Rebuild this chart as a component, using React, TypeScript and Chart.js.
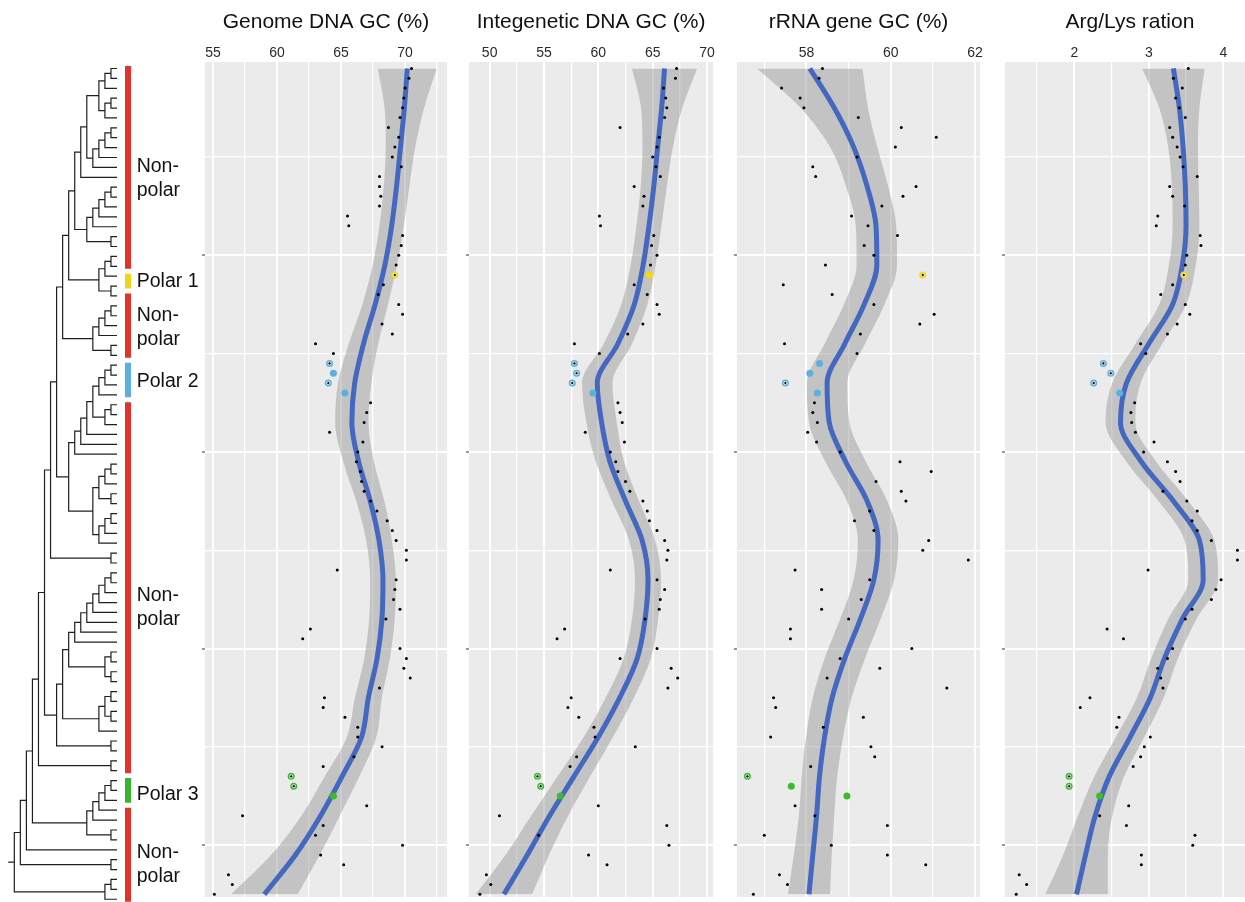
import React, { useEffect, useRef } from "react";
import { Chart, registerables } from "chart.js";

Chart.register(...registerables);

const FONT_FAMILY = '"Liberation Sans", Arial, Helvetica, sans-serif';

// ---------------- tree topology (leaf indices, top to bottom) ----------------
const T_TOP = [[[[[[0, 1], 2], [[3, 4], 5]], [[[[6, 7], 8], 9], 10]], 11], [[[[[12, 13], 14], 15], 16], [17, 18]]];
const T_POLAR1 = [[[19, 20], 21], [22, 23]];
const T_G2 = [[[[24, 25], 26], 27], [28, 29]];
const T_POLAR2 = [[[[[[[30, 31], 32], 33], [[34, 35], 36]], 37], 38], 39];
const T_G3 = [[[[40, 41], 42], [43, 44]], [[[45, 46], 47], 48]];
const T_G4 = [[[[[[[51, 52], 53], 54], 55], 56], 57], 58];
const T_G5 = [[59, 60], [61, 62]];
const T_G6 = [[[63, 64], [65, 66]], 67];
const T_POLAR3 = [[[[[72, 73], 74], 75], 76], [77, 78]];
const N1 = [T_TOP, T_POLAR1];
const N2 = [N1, T_G2];
const N3 = [T_POLAR2, T_G3];
const N4 = [N2, N3];
const N5 = [N4, [49, 50]];
const N6 = [T_G4, T_G5];
const N7 = [N6, T_G6];
const N8 = [N7, [68, 69]];
const N9 = [N5, N8];
const N10 = [N9, [70, 71]];
const N11 = [N10, T_POLAR3];
const N12 = [N11, 79];
const N13 = [N12, [80, 81]];
const TREE = [N13, [[82, 83], 84]];

// ---------------- groups (coloured bars + labels) ----------------
const GROUP_LABELS = ["Non-\npolar", "Polar 1", "Non-\npolar", "Polar 2", "Non-\npolar", "Polar 3", "Non-\npolar"];
const GROUP_FIRST = [0, 21, 23, 30, 34, 72, 75];
const GROUP_LAST = [20, 22, 29, 33, 71, 74, 84];
const GROUP_LABEL_AT = [11.17, 21.53, 26.24, 31.64, 54.5, 73.45, 80.5];
const GROUP_COLORS = ["#E2322A", "#F6D31B", "#E2322A", "#5BB0E0", "#E2322A", "#36B52C", "#E2322A"];

// ---------------- highlighted (polar) leaves ----------------
const POLAR_LEAVES = [21, 30, 31, 32, 33, 72, 73, 74];
const POLAR_COLORS = ["#F7D80A", "#5BB0E0", "#5BB0E0", "#5BB0E0", "#5BB0E0", "#3DBA30", "#3DBA30", "#3DBA30"];
const RING_FLAGS = [
  [1, 1, 0, 1, 0, 1, 1, 0],
  [0, 1, 1, 1, 0, 1, 1, 0],
  [1, 0, 0, 1, 0, 1, 0, 0],
  [1, 1, 1, 1, 0, 1, 1, 0],
];

// ---------------- panel values, one per leaf ----------------
const GENOME_GC = [
  70.5, 70.3, 70.0, 69.9, 69.8, 69.6, 68.7, 69.5, 69.2, 69.0,
  69.7, 68.0, 68.0, 68.1, 68.0, 65.5, 65.6, 69.8, 69.7, 69.5,
  69.3, 69.2, 68.3, 67.9, 69.5, 69.8, 68.2, 69.0, 63.0, 64.4,
  64.1, 64.4, 64.0, 65.3, 67.3, 67.0, 66.8, 64.1, 66.7, 66.3,
  66.2, 66.5, 66.6, 66.8, 67.3, 67.8, 68.6, 69.0, 69.3, 70.1,
  70.1, 64.7, 69.3, 69.2, 69.1, 69.6, 68.5, 62.6, 62.0, 69.6,
  70.1, 69.9, 70.4, 68.0, 63.7, 63.6, 65.3, 66.3, 66.3, 68.2,
  66.0, 63.6, 61.1, 61.3, 64.4, 67.0, 57.3, 63.6, 63.0, 69.8,
  63.4, 65.2, 56.2, 56.5, 55.1,
];
const INTERGENIC_GC = [
  67.2, 67.1, 66.0, 66.2, 66.3, 66.1, 62.0, 65.6, 65.4, 65.0,
  65.3, 65.7, 63.3, 64.2, 64.1, 60.1, 60.2, 65.1, 64.9, 65.4,
  64.8, 64.7, 63.3, 64.5, 65.4, 65.6, 64.1, 62.7, 57.8, 60.1,
  57.8, 58.0, 57.6, 59.5, 61.8, 62.0, 62.2, 58.8, 62.4, 61.1,
  61.6, 61.8, 62.5, 62.9, 64.1, 64.5, 64.7, 65.4, 66.1, 66.4,
  66.3, 61.1, 65.4, 66.1, 65.7, 65.6, 64.3, 56.9, 56.2, 65.4,
  62.0, 66.7, 67.3, 66.4, 57.5, 57.2, 58.2, 59.6, 59.7, 63.4,
  58.0, 57.4, 54.4, 54.7, 56.5, 60.0, 50.9, 66.3, 54.5, 66.5,
  59.1, 60.8, 49.7, 50.1, 49.1,
];
const RRNA_GC = [
  58.38, 58.3, 57.41, 57.85, 57.94, 59.23, 60.25, 61.08, 60.11, 59.2,
  58.15, 58.22, 60.6, 60.29, 59.79, 59.07, 59.46, 60.16, 59.37, 59.6,
  58.45, 60.76, 57.45, 58.61, 59.6, 61.03, 60.69, 59.28, 57.48, 59.2,
  58.31, 58.08, 57.5, 58.26, 58.19, 58.15, 58.26, 58.03, 58.24, 58.8,
  60.22, 60.96, 59.65, 60.25, 60.36, 59.5, 59.14, 59.6, 60.9, 60.76,
  61.84, 57.73, 59.5, 58.36, 59.3, 58.36, 59.0, 57.62, 57.62, 60.5,
  58.8, 59.74, 58.49, 61.33, 57.22, 57.27, 59.35, 58.4, 57.15, 59.53,
  59.62, 58.1, 56.6, 57.64, 58.96, 57.73, 58.2, 59.92, 57.0, 58.59,
  59.92, 60.83, 57.36, 57.55, 56.74,
];
const ARG_LYS = [
  3.53, 3.33, 3.45, 3.36, 3.41, 3.49, 3.28, 3.32, 3.38, 3.42,
  3.46, 3.65, 3.28, 3.32, 3.48, 3.12, 3.1, 3.69, 3.7, 3.51,
  3.49, 3.47, 3.32, 3.16, 3.49, 3.55, 3.38, 3.25, 2.89, 2.96,
  2.39, 2.49, 2.26, 2.61, 2.81, 2.76, 2.77, 2.82, 3.07, 2.93,
  3.25, 3.36, 3.42, 3.19, 3.51, 3.65, 3.58, 3.65, 3.84, 4.19,
  4.19, 2.99, 3.97, 3.9, 3.84, 3.58, 3.49, 2.44, 2.66, 3.32,
  3.25, 3.12, 3.16, 3.19, 2.21, 2.08, 2.6, 2.57, 3.02, 2.94,
  2.89, 2.79, 1.93, 1.93, 2.34, 2.73, 2.34, 2.7, 3.62, 3.59,
  2.9, 2.9, 1.26, 1.36, 1.22,
];

// ---------------- smoothed fit and its band, at sampled leaves ----------------
const FIT_LEAVES = [0, 4, 8, 12, 16, 20, 24, 28, 32, 36, 40, 44, 48, 52, 56, 60, 64, 68, 72, 76, 80, 84];
const GENOME_FIT = [70.17, 69.94, 69.64, 69.33, 68.95, 68.42, 67.66, 66.75, 66.06, 65.84, 66.37, 67.28, 67.96, 68.27, 68.19, 67.81, 67.13, 66.6, 65.08, 63.4, 61.43, 59.0];
const GENOME_SE = [2.3, 1.55, 1.15, 1.0, 0.95, 0.95, 1.0, 1.15, 1.3, 1.3, 1.2, 1.1, 1.0, 1.0, 1.0, 1.0, 1.05, 1.15, 1.35, 1.5, 1.9, 2.6];
const INTERGENIC_FIT = [66.09, 65.83, 65.46, 65.1, 64.66, 64.12, 63.31, 61.8, 59.9, 60.3, 61.07, 62.5, 64.03, 64.57, 64.3, 63.58, 61.97, 60.0, 57.76, 55.52, 53.46, 51.31];
const INTERGENIC_SE = [3.0, 1.9, 1.4, 1.2, 1.15, 1.15, 1.2, 1.3, 1.4, 1.4, 1.3, 1.25, 1.2, 1.2, 1.2, 1.25, 1.3, 1.35, 1.5, 1.7, 2.0, 2.6];
const RRNA_FIT = [58.08, 58.66, 59.12, 59.44, 59.65, 59.67, 59.37, 58.91, 58.49, 58.54, 58.93, 59.44, 59.7, 59.6, 59.28, 58.91, 58.61, 58.43, 58.31, 58.24, 58.15, 58.06];
const RRNA_SE = [1.25, 0.8, 0.56, 0.5, 0.48, 0.48, 0.48, 0.48, 0.48, 0.48, 0.48, 0.48, 0.48, 0.48, 0.48, 0.48, 0.46, 0.44, 0.42, 0.42, 0.45, 0.5];
const ARG_LYS_FIT = [3.33, 3.41, 3.46, 3.49, 3.5, 3.45, 3.32, 3.0, 2.7, 2.62, 2.9, 3.33, 3.68, 3.73, 3.45, 3.21, 3.02, 2.75, 2.47, 2.28, 2.15, 2.03];
const ARG_LYS_SE = [0.42, 0.27, 0.2, 0.18, 0.18, 0.18, 0.18, 0.18, 0.19, 0.2, 0.2, 0.2, 0.2, 0.2, 0.19, 0.18, 0.18, 0.19, 0.2, 0.23, 0.3, 0.42];

// ---------------- axes ----------------
const PANEL_TITLES = ["Genome DNA GC (%)", "Integenetic DNA GC (%)", "rRNA gene GC (%)", "Arg/Lys ration"];
const PANEL_X_MIN = [54.36, 48.09, 56.35, 1.068];
const PANEL_X_MAX = [73.28, 70.56, 62.12, 4.427];
const PANEL_MAJOR = [[55, 60, 65, 70], [50, 55, 60, 65, 70], [58, 60, 62], [2, 3, 4]];
const PANEL_MINOR = [[57.5, 62.5, 67.5, 72.5], [52.5, 57.5, 62.5, 67.5], [57, 59, 61], [1.5, 2.5, 3.5]];
const Y_MAJOR = [19, 39, 59, 79];
const Y_MINOR = [9, 29, 49, 69];

const PANEL_VALUES = [GENOME_GC, INTERGENIC_GC, RRNA_GC, ARG_LYS];
const PANEL_FIT = [GENOME_FIT, INTERGENIC_FIT, RRNA_FIT, ARG_LYS_FIT];
const PANEL_SE = [GENOME_SE, INTERGENIC_SE, RRNA_SE, ARG_LYS_SE];

// ---------------- layout (style only) ----------------
const H = 902;
const Y_MIN = -0.657;
const Y_MAX = 84.28;
const TREE_Y_MIN = -6.926;
const TREE_W = 200;
const TREE_X_MAX = 19.37;
const TREE_X_MIN = -13.74;
const BAR_AT = -1.82;
const LABEL_AT = -3.26;
const ROOT_STUB = 1;
const PANEL_LEFT = [200, 464, 732, 1000];
const PANEL_WIDTH = [252, 254, 253, 260];

type TNode = number | TNode[];

function layoutTree(node: TNode, pts: any[]): { y: number; h: number } {
  if (typeof node === "number") return { y: node, h: 0 };
  const kids = node.map((k) => layoutTree(k, pts));
  const h = 1 + Math.max(...kids.map((k) => k.h));
  const first = kids[0];
  const last = kids[kids.length - 1];
  pts.push(
    { x: first.h, y: first.y },
    { x: h, y: first.y },
    { x: h, y: last.y },
    { x: last.h, y: last.y },
    { x: null, y: null }
  );
  return { y: (first.y + last.y) / 2, h };
}

const treeLabelPlugin = {
  id: "treeLabels",
  afterDatasetsDraw(chart: any) {
    const { ctx } = chart;
    const xs = chart.scales.x;
    const ys = chart.scales.y;
    ctx.save();
    ctx.font = `19.5px ${FONT_FAMILY}`;
    ctx.fillStyle = "#111";
    ctx.textBaseline = "middle";
    ctx.textAlign = "left";
    GROUP_LABELS.forEach((lab, k) => {
      const lines = lab.split("\n");
      const cy = ys.getPixelForValue(GROUP_LABEL_AT[k]);
      const px = xs.getPixelForValue(LABEL_AT);
      lines.forEach((ln, j) => {
        ctx.fillText(ln, px, cy + (j - (lines.length - 1) / 2) * 23.8);
      });
    });
    ctx.restore();
  },
};

const panelBgPlugin = {
  id: "panelBg",
  beforeDraw(chart: any) {
    const { ctx, chartArea: a } = chart;
    ctx.save();
    ctx.fillStyle = "#EBEBEB";
    ctx.fillRect(a.left, a.top, a.right - a.left, a.bottom - a.top);
    ctx.restore();
  },
};

function treeConfig(): any {
  const pts: any[] = [];
  const root = layoutTree(TREE as TNode, pts);
  pts.push({ x: root.h, y: root.y }, { x: root.h + ROOT_STUB, y: root.y });
  const bars = GROUP_FIRST.map((f, k) => ({
    data: [
      { x: BAR_AT, y: f - 0.25 },
      { x: BAR_AT, y: GROUP_LAST[k] + 0.25 },
    ],
    borderColor: GROUP_COLORS[k],
    borderWidth: 6,
    borderCapStyle: "butt",
    pointRadius: 0,
    fill: false,
  }));
  return {
    type: "line",
    data: {
      datasets: [
        {
          data: pts,
          borderColor: "#1f1f1f",
          borderWidth: 1.2,
          pointRadius: 0,
          spanGaps: false,
          fill: false,
          tension: 0,
        },
        ...bars,
      ],
    },
    options: {
      responsive: false,
      animation: false,
      devicePixelRatio: 1,
      events: [],
      layout: { padding: 0 },
      plugins: { legend: { display: false }, tooltip: { enabled: false }, title: { display: false } },
      scales: {
        x: { type: "linear", display: false, reverse: true, min: TREE_X_MIN, max: TREE_X_MAX },
        y: { type: "linear", display: false, reverse: true, min: TREE_Y_MIN, max: Y_MAX },
      },
    },
    plugins: [treeLabelPlugin],
  };
}

function panelConfig(p: number): any {
  const values = PANEL_VALUES[p];
  const fit = PANEL_FIT[p];
  const se = PANEL_SE[p];
  const major = PANEL_MAJOR[p];
  const xTicks = [...major, ...PANEL_MINOR[p]]
    .filter((v) => v >= PANEL_X_MIN[p] && v <= PANEL_X_MAX[p])
    .sort((a, b) => a - b);
  const yTicks = [...Y_MAJOR, ...Y_MINOR].sort((a, b) => a - b);

  const dots = values
    .map((v, i) => ({ x: v, y: i }))
    .filter((_, i) => !POLAR_LEAVES.includes(i));
  const polarPts = POLAR_LEAVES.map((i) => ({ x: values[i], y: i }));
  const ringPts = POLAR_LEAVES.filter((_, k) => RING_FLAGS[p][k]).map((i) => ({ x: values[i], y: i }));
  const fitPts = FIT_LEAVES.map((l, k) => ({ x: fit[k], y: l }));
  const hiPts = FIT_LEAVES.map((l, k) => ({ x: fit[k] + se[k], y: l }));
  const loPts = FIT_LEAVES.map((l, k) => ({ x: fit[k] - se[k], y: l }));

  return {
    type: "line",
    data: {
      datasets: [
        {
          data: dots,
          showLine: false,
          pointRadius: 1.5,
          pointBackgroundColor: "#000",
          pointBorderWidth: 0,
          indexAxis: "y",
          order: 0,
        },
        {
          data: ringPts,
          showLine: false,
          pointRadius: 1.6,
          pointBackgroundColor: "#000",
          pointBorderColor: "#fff",
          pointBorderWidth: 0.9,
          indexAxis: "y",
          order: 1,
        },
        {
          data: polarPts,
          showLine: false,
          pointRadius: 3.5,
          pointBackgroundColor: POLAR_COLORS,
          pointBorderWidth: 0,
          indexAxis: "y",
          order: 2,
        },
        {
          data: fitPts,
          borderColor: "#4467BF",
          borderWidth: 5,
          pointRadius: 0,
          tension: 0.4,
          cubicInterpolationMode: "monotone",
          fill: false,
          indexAxis: "y",
          order: 3,
        },
        {
          data: hiPts,
          borderColor: "rgba(0,0,0,0)",
          borderWidth: 1,
          pointRadius: 0,
          tension: 0.4,
          cubicInterpolationMode: "monotone",
          fill: "+1",
          backgroundColor: "rgba(150,150,150,0.47)",
          indexAxis: "y",
          order: 4,
        },
        {
          data: loPts,
          borderColor: "rgba(0,0,0,0)",
          borderWidth: 1,
          pointRadius: 0,
          tension: 0.4,
          cubicInterpolationMode: "monotone",
          fill: false,
          indexAxis: "y",
          order: 5,
        },
      ],
    },
    options: {
      indexAxis: "y",
      responsive: false,
      animation: false,
      devicePixelRatio: 1,
      events: [],
      layout: { padding: 0 },
      plugins: {
        legend: { display: false },
        tooltip: { enabled: false },
        title: {
          display: true,
          text: PANEL_TITLES[p],
          color: "#111",
          font: { family: FONT_FAMILY, size: 21, weight: "normal", lineHeight: 1 },
          padding: { top: 12, bottom: 3 },
        },
      },
      scales: {
        x: {
          type: "linear",
          position: "top",
          min: PANEL_X_MIN[p],
          max: PANEL_X_MAX[p],
          afterBuildTicks: (s: any) => {
            s.ticks = xTicks.map((v) => ({ value: v }));
          },
          afterFit: (s: any) => {
            s.height = 26;
            s.paddingLeft = 0;
            s.paddingRight = 0;
          },
          ticks: {
            autoSkip: false,
            maxRotation: 0,
            padding: 0,
            color: "#2b2b2b",
            font: { family: FONT_FAMILY, size: 14 },
            callback: (v: any) => (major.includes(Number(v)) ? String(v) : ""),
          },
          grid: {
            color: "#fff",
            lineWidth: (ctx: any) => (ctx.tick && major.includes(ctx.tick.value) ? 2 : 1.3),
            drawTicks: false,
          },
          border: { display: false },
        },
        y: {
          type: "linear",
          reverse: true,
          min: Y_MIN,
          max: Y_MAX,
          afterBuildTicks: (s: any) => {
            s.ticks = yTicks.map((v) => ({ value: v }));
          },
          afterFit: (s: any) => {
            s.width = 3;
          },
          ticks: { display: false },
          grid: {
            color: "#fff",
            lineWidth: (ctx: any) => (ctx.tick && Y_MAJOR.includes(ctx.tick.value) ? 2 : 1.3),
            drawTicks: true,
            tickLength: 3,
            tickWidth: 1,
            tickColor: (ctx: any) => (ctx.tick && Y_MAJOR.includes(ctx.tick.value) ? "#333" : "rgba(0,0,0,0)"),
          },
          border: { display: false },
        },
      },
    },
    plugins: [panelBgPlugin],
  };
}

function TreeCanvas() {
  const ref = useRef<HTMLCanvasElement>(null);
  useEffect(() => {
    const chart = new Chart(ref.current as HTMLCanvasElement, treeConfig());
    return () => chart.destroy();
  }, []);
  return (
    <canvas
      ref={ref}
      width={TREE_W}
      height={H}
      style={{ position: "absolute", left: 0, top: 0, width: TREE_W, height: H }}
    />
  );
}

function PanelCanvas({ p }: { p: number }) {
  const ref = useRef<HTMLCanvasElement>(null);
  useEffect(() => {
    const chart = new Chart(ref.current as HTMLCanvasElement, panelConfig(p));
    return () => chart.destroy();
  }, [p]);
  return (
    <canvas
      ref={ref}
      width={PANEL_WIDTH[p]}
      height={H}
      style={{ position: "absolute", left: PANEL_LEFT[p], top: 0, width: PANEL_WIDTH[p], height: H }}
    />
  );
}

export default function App() {
  return (
    <div
      style={{
        position: "fixed",
        left: 0,
        top: 0,
        width: 1245,
        height: H,
        overflow: "hidden",
        background: "#fff",
      }}
    >
      <TreeCanvas />
      {PANEL_TITLES.map((_, p) => (
        <PanelCanvas key={p} p={p} />
      ))}
    </div>
  );
}
